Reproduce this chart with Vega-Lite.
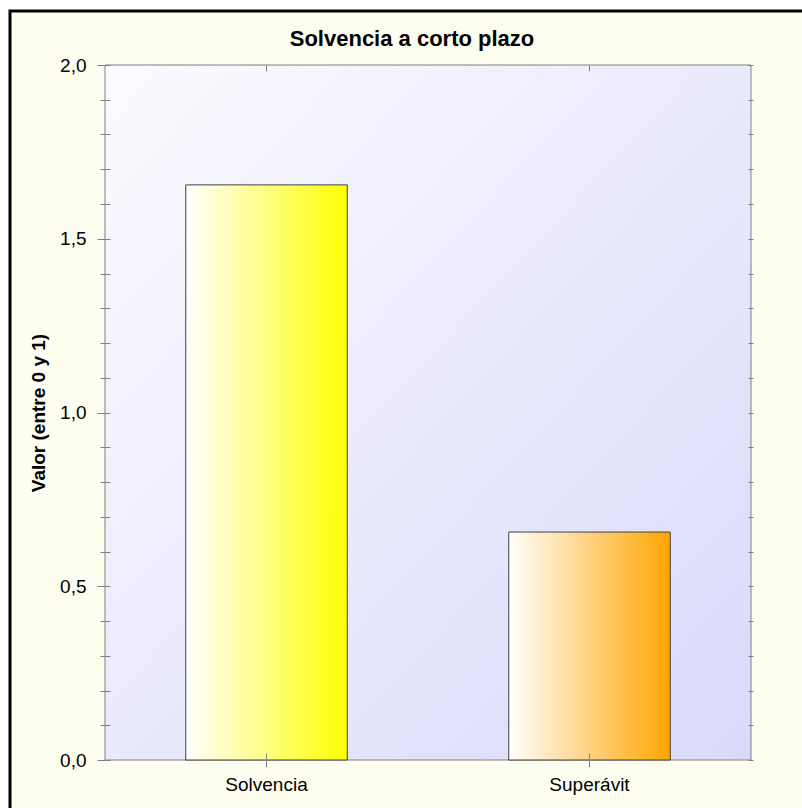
{
  "$schema": "https://vega.github.io/schema/vega-lite/v6.json",
  "width": 792,
  "height": 797,
  "autosize": "none",
  "padding": {"left": 10, "top": 11, "right": 0, "bottom": 0},
  "background": "white",
  "title": {
    "text": "Solvencia a corto plazo",
    "font": "Liberation Sans",
    "fontSize": 22,
    "fontWeight": "bold",
    "color": "#000000",
    "anchor": "middle",
    "frame": "group",
    "offset": 0,
    "baseline": "alphabetic",
    "dx": 6,
    "dy": 57
  },
  "data": {
    "values": [
      {"categoria": "Solvencia", "valor": 1.655},
      {"categoria": "Superávit", "valor": 0.656}
    ]
  },
  "layer": [
    {
      "data": {"values": [{"marco": "plot"}]},
      "mark": {
        "type": "rect",
        "stroke": "#808080",
        "strokeWidth": 1,
        "fill": {
          "gradient": "linear",
          "x1": 0, "y1": 0, "x2": 1, "y2": 1,
          "stops": [
            {"offset": 0, "color": "#FBFBFF"},
            {"offset": 1, "color": "#D9D9FB"}
          ]
        }
      },
      "encoding": {
        "x": {"datum": 0, "type": "quantitative", "scale": {"domain": [0, 1], "range": [95, 741], "nice": false, "zero": false}, "axis": null},
        "x2": {"datum": 1},
        "y": {
          "datum": 0,
          "type": "quantitative",
          "scale": {"domain": [0, 2], "range": [749, 54], "nice": false},
          "axis": {
            "orient": "left",
            "offset": -95,
            "values": [0, 0.5, 1, 1.5, 2],
            "labelExpr": "replace(format(datum.value, '.1f'), '.', ',')",
            "domain": false,
            "grid": false,
            "tickSize": 8,
            "tickColor": "#808080",
            "labelPadding": 11,
            "labelFont": "Liberation Sans",
            "labelFontSize": 19,
            "labelColor": "#000000",
            "title": "Valor (entre 0 y 1)",
            "titleFont": "Liberation Sans",
            "titleFontSize": 19,
            "titleFontWeight": "bold",
            "titleColor": "#000000",
            "titlePadding": 11,
            "zindex": 1
          }
        },
        "y2": {"datum": 2}
      }
    },
    {
      "transform": [{"filter": "datum.categoria === 'Solvencia'"}],
      "mark": {
        "type": "bar",
        "width": {"band": 0.5},
        "stroke": "#404040",
        "strokeWidth": 1,
        "fill": {
          "gradient": "linear",
          "x1": 0, "y1": 0, "x2": 1, "y2": 0,
          "stops": [
            {"offset": 0, "color": "#FFFFFF"},
            {"offset": 1, "color": "#FFFF00"}
          ]
        }
      },
      "encoding": {
        "x": {
          "field": "categoria",
          "type": "nominal",
          "sort": null,
          "scale": {"domain": ["Solvencia", "Superávit"], "range": [95, 741], "paddingInner": 0, "paddingOuter": 0},
          "axis": {
            "orient": "bottom",
            "offset": -55,
            "title": null,
            "domain": false,
            "grid": false,
            "tickSize": 14,
            "tickColor": "#808080",
            "labelAngle": 0,
            "labelPadding": 8,
            "labelFont": "Liberation Sans",
            "labelFontSize": 19,
            "labelColor": "#000000",
            "zindex": 1
          }
        },
        "y": {
          "field": "valor",
          "type": "quantitative",
          "scale": {"domain": [0, 2], "range": [749, 54], "nice": false},
          "axis": {
            "orient": "left",
            "offset": -100,
            "values": [0, 0.1, 0.2, 0.3, 0.4, 0.5, 0.6, 0.7, 0.8, 0.9, 1, 1.1, 1.2, 1.3, 1.4, 1.5, 1.6, 1.7, 1.8, 1.9, 2],
            "labels": false,
            "domain": false,
            "grid": false,
            "title": null,
            "tickSize": 10,
            "tickColor": "#808080",
            "zindex": 1
          }
        }
      }
    },
    {
      "transform": [{"filter": "datum.categoria === 'Superávit'"}],
      "mark": {
        "type": "bar",
        "width": {"band": 0.5},
        "stroke": "#404040",
        "strokeWidth": 1,
        "fill": {
          "gradient": "linear",
          "x1": 0, "y1": 0, "x2": 1, "y2": 0,
          "stops": [
            {"offset": 0, "color": "#FFFFFF"},
            {"offset": 1, "color": "#FFA500"}
          ]
        }
      },
      "encoding": {
        "x": {
          "field": "categoria",
          "type": "nominal",
          "sort": null,
          "scale": {"domain": ["Solvencia", "Superávit"], "range": [95, 741], "paddingInner": 0, "paddingOuter": 0},
          "axis": {
            "orient": "top",
            "offset": -60,
            "title": null,
            "labels": false,
            "domain": false,
            "grid": false,
            "tickSize": 6,
            "tickColor": "#808080",
            "zindex": 1
          }
        },
        "y": {
          "field": "valor",
          "type": "quantitative",
          "scale": {"domain": [0, 2], "range": [749, 54], "nice": false},
          "axis": {
            "orient": "right",
            "offset": -54,
            "values": [0, 0.1, 0.2, 0.3, 0.4, 0.5, 0.6, 0.7, 0.8, 0.9, 1, 1.1, 1.2, 1.3, 1.4, 1.5, 1.6, 1.7, 1.8, 1.9, 2],
            "labels": false,
            "domain": false,
            "grid": false,
            "title": null,
            "tickSize": 5,
            "tickColor": "#808080",
            "zindex": 1
          }
        }
      }
    }
  ],
  "resolve": {
    "scale": {"x": "independent", "y": "shared"},
    "axis": {"x": "independent", "y": "independent"}
  },
  "config": {
    "font": "Liberation Sans",
    "view": {
      "fill": "#FEFEF0",
      "stroke": "#000000",
      "strokeWidth": 3,
      "strokeDash": [792, 1589, 797]
    }
  }
}
